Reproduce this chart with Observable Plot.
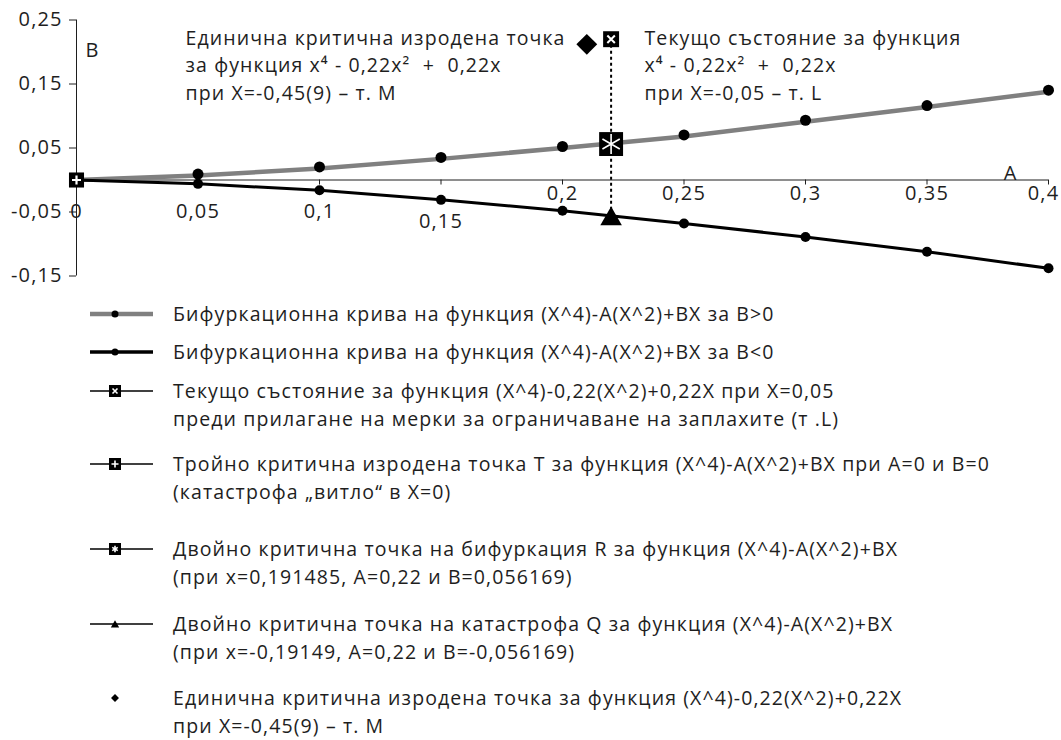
<!DOCTYPE html>
<html lang="bg">
<head>
<meta charset="utf-8">
<script src="https://cdn.jsdelivr.net/npm/d3@7"></script>
<script src="https://cdn.jsdelivr.net/npm/@observablehq/plot@0.6"></script>
<style>
  html, body { margin: 0; padding: 0; background: #fff; }
  body { font-family: "Open Sans", "Noto Sans", sans-serif; color: #1e1e1e; }
  #wrap { position: relative; width: 1061px; height: 740px; overflow: hidden; }
  #chart svg { display: block; }
  #chart svg text { letter-spacing: 1.1px; }
  .lrow { position: absolute; left: 0; }
  .lrow svg { position: absolute; left: 86px; top: 0; }
  .lrow .ltext { position: absolute; left: 173px; top: 0; font-size: 19.5px; letter-spacing: 1.1px; line-height: 27.8px; white-space: nowrap; }
</style>
</head>
<body>
<div id="wrap">
  <div id="chart"></div>
  <div id="legend"></div>
</div>
<script>
// ---------- data ----------
const paramA = [0, 0.05, 0.1, 0.15, 0.2, 0.25, 0.3, 0.35, 0.4];
const curveBpos = [0, 0.007, 0.018, 0.033, 0.050, 0.068, 0.091, 0.114, 0.138];
const curveBneg = [0, -0.006, -0.016, -0.031, -0.048, -0.068, -0.089, -0.112, -0.138];
const pointT = [{A: 0, B: 0}];
const pointR = [{A: 0.22, B: 0.056169}];
const pointQ = [{A: 0.22, B: -0.056169}];
const pointL = [{A: 0.22, B: 0.22}];
const pointM = [{A: 0.21, B: 0.212}];
const xTicks = [0, 0.05, 0.1, 0.15, 0.2, 0.25, 0.3, 0.35, 0.4];
const yTicks = [-0.15, -0.05, 0.05, 0.15, 0.25];
const annotLeft = ["Единична критична изродена точка", "за функция x⁴ - 0,22x²  +  0,22x", "при X=-0,45(9) – т. М"];
const annotRight = ["Текущо състояние за функция", "x⁴ - 0,22x²  +  0,22x", "при X=-0,05 – т. L"];
const legendLabels = [
  ["Бифуркационна крива на функция (X^4)-A(X^2)+BX за B>0"],
  ["Бифуркационна крива на функция (X^4)-A(X^2)+BX за B<0"],
  ["Текущо състояние за функция (X^4)-0,22(X^2)+0,22X при X=0,05", "преди прилагане на мерки за ограничаване на заплахите (т .L)"],
  ["Тройно критична изродена точка T за функция (X^4)-A(X^2)+BX при A=0 и B=0", "(катастрофа „витло“ в X=0)"],
  ["Двойно критична точка на бифуркация R за функция (X^4)-A(X^2)+BX", "(при x=0,191485, A=0,22 и B=0,056169)"],
  ["Двойно критична точка на катастрофа Q за функция (X^4)-A(X^2)+BX", "(при x=-0,19149, A=0,22 и B=-0,056169)"],
  ["Единична критична изродена точка за функция (X^4)-0,22(X^2)+0,22X", "при X=-0,45(9)  – т. М"]
];
const legendKinds = ["grayline", "blackline", "times", "plus", "asterisk", "triangle", "diamond"];

// ---------- build ----------
const posRows = paramA.map((a, i) => ({A: a, B: curveBpos[i]}));
const negRows = paramA.map((a, i) => ({A: a, B: curveBneg[i]}));
const fmt = d => String(d).replace(".", ",");
const GRAY = "#808080";
const INK = "#1e1e1e";
const FONT = "'Open Sans', 'Noto Sans', sans-serif";

const chart = Plot.plot({
  width: 1061,
  height: 290,
  marginLeft: 76,
  marginRight: 13,
  marginTop: 19.5,
  marginBottom: 14.5,
  style: {fontFamily: FONT, fontSize: "20px", color: INK, background: "#fff"},
  x: {domain: [0, 0.4]},
  y: {domain: [-0.15, 0.25]},
  marks: [
    Plot.axisY(yTicks, {tickSize: 7, tickPadding: 7, tickFormat: fmt, fontSize: 20, label: null, stroke: INK}),
    Plot.axisX([], {label: null, tickSize: 0}),
    Plot.ruleX([0], {stroke: INK, strokeWidth: 1}),
    Plot.ruleY([0], {stroke: INK, strokeWidth: 1}),
    Plot.ruleX(xTicks, {x: d => d, y1: 0, y2: 0, insetBottom: -5, stroke: INK}),
    Plot.text(xTicks.filter(v => v < 0.14), {x: d => d, y: 0, text: fmt, dy: 32, fontSize: 20, fill: INK}),
    Plot.text(xTicks.filter(v => v > 0.14 && v < 0.19), {x: d => d, y: 0, text: fmt, dy: 42, fontSize: 20, fill: INK}),
    Plot.text(xTicks.filter(v => v > 0.19 && v < 0.39), {x: d => d, y: 0, text: fmt, dy: 14, fontSize: 20, fill: INK}),
    Plot.text(xTicks.filter(v => v > 0.39), {x: d => d, y: 0, text: fmt, dy: 14, dx: -5, fontSize: 20, fill: INK}),
    Plot.text(["B"], {frameAnchor: "top-left", dx: 9, dy: 23, textAnchor: "start", fontSize: 20, fill: INK}),
    Plot.text(["A"], {frameAnchor: "top-right", dx: -31, dy: 146, fontSize: 20, fill: INK}),
    // dotted connector
    Plot.ruleX(pointL, {x: "A", y1: "B", y2: pointQ[0].B, stroke: "#000", strokeWidth: 2, strokeDasharray: "3,3"}),
    // curves
    Plot.line(posRows, {x: "A", y: "B", stroke: GRAY, strokeWidth: 4.5}),
    Plot.dot(posRows, {x: "A", y: "B", r: 5.5, fill: "#000", dy: -1.5}),
    Plot.line(negRows, {x: "A", y: "B", stroke: "#000", strokeWidth: 3}),
    Plot.dot(negRows, {x: "A", y: "B", r: 5, fill: "#000"}),
    // special points
    Plot.dot(pointT, {x: "A", y: "B", symbol: "square", r: 8.5, fill: "#000"}),
    Plot.dot(pointT, {x: "A", y: "B", symbol: "plus", r: 3, stroke: "#fff", strokeWidth: 2.2}),
    Plot.dot(pointR, {x: "A", y: "B", symbol: "square", r: 13.5, fill: "#000"}),
    Plot.dot(pointR, {x: "A", y: "B", symbol: "asterisk", r: 9.5, stroke: "#fff", strokeWidth: 1.6}),
    Plot.dot(pointL, {x: "A", y: "B", symbol: "square", r: 9, fill: "#000"}),
    Plot.dot(pointL, {x: "A", y: "B", symbol: "times", r: 3.5, stroke: "#fff", strokeWidth: 2}),
    Plot.dot(pointQ, {x: "A", y: "B", symbol: "triangle", r: 8, fill: "#000", dy: 3}),
    Plot.dot(pointM, {x: "A", y: "B", symbol: "diamond2", r: 9.4, fill: "#000"}),
    // annotations
    Plot.text([annotLeft.join("\n")], {frameAnchor: "top-left", dx: 109, dy: 5, textAnchor: "start", lineAnchor: "top", lineHeight: 1.41, fontSize: 19.5, fill: INK}),
    Plot.text([annotRight.join("\n")], {frameAnchor: "top-left", dx: 568, dy: 5, textAnchor: "start", lineAnchor: "top", lineHeight: 1.41, fontSize: 19.5, fill: INK})
  ]
});
document.getElementById("chart").appendChild(chart);

// ---------- legend ----------
const legendRowY = [300, 338, 377, 450, 535, 610, 684];
const legend = d3.select("#legend");
legendLabels.forEach((lines, i) => {
  const row = legend.append("div").attr("class", "lrow").style("top", legendRowY[i] + "px");
  const svg = row.append("svg").attr("width", 72).attr("height", 28);
  const cy = 14, cx = 29, x0 = 4, x1 = 67;
  const kind = legendKinds[i];
  if (kind === "grayline" || kind === "blackline") {
    svg.append("line").attr("x1", x0).attr("x2", x1).attr("y1", cy).attr("y2", cy)
      .attr("stroke", kind === "grayline" ? GRAY : "#000").attr("stroke-width", kind === "grayline" ? 4.5 : 3.5);
    svg.append("circle").attr("cx", cx).attr("cy", cy).attr("r", 3.5).attr("fill", "#000");
  } else if (kind === "diamond") {
    svg.append("path").attr("d", d3.symbol(d3.symbolDiamond2, 40)()).attr("transform", `translate(${cx},${cy})`).attr("fill", "#000");
  } else {
    svg.append("line").attr("x1", x0).attr("x2", x1).attr("y1", cy).attr("y2", cy).attr("stroke", "#000").attr("stroke-width", 1.4);
    if (kind === "triangle") {
      svg.append("path").attr("d", d3.symbol(d3.symbolTriangle, 30)()).attr("transform", `translate(${cx},${cy + 1})`).attr("fill", "#000");
    } else {
      svg.append("rect").attr("x", cx - 6).attr("y", cy - 6).attr("width", 12).attr("height", 12).attr("fill", "#000");
      const sym = kind === "times" ? d3.symbolTimes : kind === "plus" ? d3.symbolPlus : d3.symbolAsterisk;
      svg.append("path").attr("d", d3.symbol(sym, kind === "asterisk" ? 28 : 18)()).attr("transform", `translate(${cx},${cy})`)
        .attr("stroke", "#fff").attr("stroke-width", 1.6).attr("fill", "none");
    }
  }
  const t = row.append("div").attr("class", "ltext");
  lines.forEach(l => t.append("div").text(l));
});
</script>
</body>
</html>
